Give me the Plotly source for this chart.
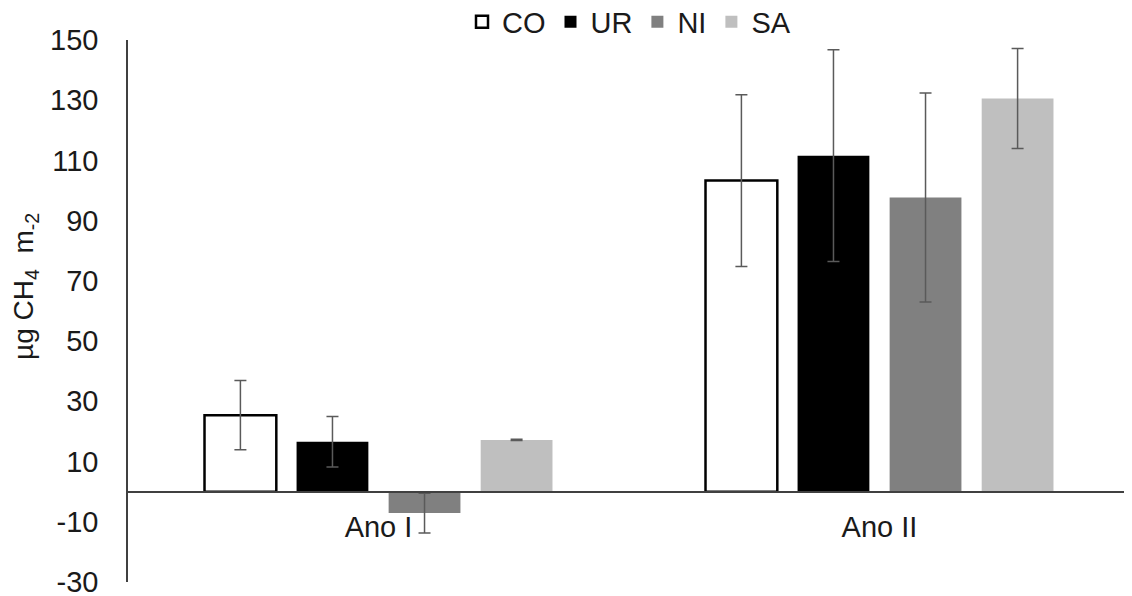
import plotly.graph_objects as go

categories = ["Ano I", "Ano II"]
series_names = ["CO", "UR", "NI", "SA"]
co_values = [25.4, 103.3]
co_errors = [11.5, 28.5]
ur_values = [16.6, 111.6]
ur_errors = [8.4, 35.2]
ni_values = [-7.1, 97.7]
ni_errors = [6.6, 34.7]
sa_values = [17.2, 130.6]
sa_errors = [0.2, 16.6]
y_ticks = [-30, -10, 10, 30, 50, 70, 90, 110, 130, 150]
y_tick_labels = ["-30", "-10", "10", "30", "50", "70", "90", "110", "130", "150"]

values = [co_values, ur_values, ni_values, sa_values]
errors = [co_errors, ur_errors, ni_errors, sa_errors]
fills = ["#ffffff", "#000000", "#808080", "#bfbfbf"]
lines = ["#000000", "#000000", "#808080", "#bfbfbf"]
lws = [2.5, 0, 0, 0]

FONT = "Liberation Sans, Arial, sans-serif"

fig = go.Figure()
for name, v, e, f, lc, lw in zip(series_names, values, errors, fills, lines, lws):
    fig.add_trace(go.Bar(
        x=categories, y=v, name=name,
        marker=dict(color=f, line=dict(color=lc, width=lw)),
        error_y=dict(type="data", array=e, visible=True, color="#5a5a5a",
                     thickness=1.5, width=6),
    ))

fig.update_layout(
    width=1132, height=596,
    margin=dict(l=120, r=10, t=32, b=22, autoexpand=False),
    paper_bgcolor="white", plot_bgcolor="white",
    barmode="group", bargap=0.265, bargroupgap=0.22,
    font=dict(family=FONT, size=29, color="#1a1a1a"),
    showlegend=True,
    legend=dict(orientation="h", x=0.5, xanchor="center", y=1 + 18 / 542, yanchor="middle",
                yref="paper", font=dict(size=29), itemwidth=30,
                bgcolor="rgba(0,0,0,0)", traceorder="normal"),
    xaxis=dict(
        anchor="free", position=30 / 180, automargin=False,
        showline=True, linecolor="#404040", linewidth=1.5,
        ticks="", showgrid=False, zeroline=False,
        tickfont=dict(size=29), ticklabelstandoff=10,
    ),
    yaxis=dict(
        range=[-30, 150], tickvals=y_ticks, ticktext=y_tick_labels, automargin=False,
        showline=True, linecolor="#404040", linewidth=1.5,
        ticks="", showgrid=False, zeroline=False,
        tickfont=dict(size=29), ticklabelstandoff=22,
    ),
    annotations=[dict(
        text="µg CH<sub>4</sub>  m<sub>-2</sub>",
        xref="paper", yref="paper", x=0, y=(582 - 287) / 542,
        xanchor="center", yanchor="middle", xshift=-103,
        textangle=-90, showarrow=False, font=dict(size=28, family=FONT),
    )],
)

fig.write_html("out.html")
